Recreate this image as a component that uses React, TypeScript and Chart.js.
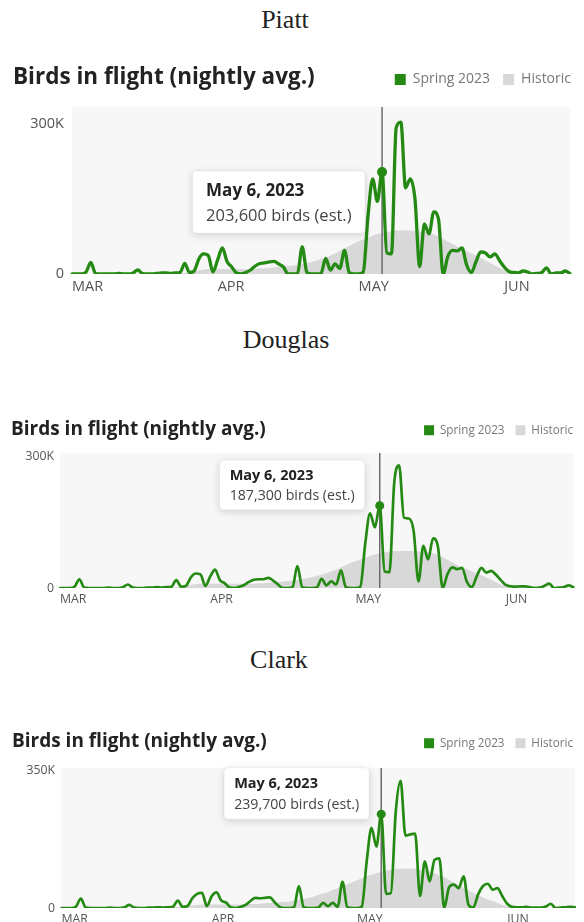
import React, { useEffect, useRef } from 'react';
import { Chart, registerables, Tooltip } from 'chart.js';

Chart.register(...registerables);

// ---------- data ----------
const START_YEAR = 2023;
const START_MONTH = 2; // March (0-based), first night = Mar 1
const MONTH_TICKS = ['JAN', 'FEB', 'MAR', 'APR', 'MAY', 'JUN', 'JUL', 'AUG', 'SEP', 'OCT', 'NOV', 'DEC'];
const HIGHLIGHT_INDEX = 66; // May 6, 2023
const SERIES_LABELS = ['Spring 2023', 'Historic'];
const CHART_TITLE = 'Birds in flight (nightly avg.)';
const COUNTY_NAMES = ['Piatt', 'Douglas', 'Clark'];
const TOP_TICKS = [300000, 300000, 350000];

// nightly values in thousands of birds, Mar 1 .. Jun 15
const PIATT_SPRING = [
  0, 0, 0, 4, 23, 1, 0, 0, 0, 0,
  1, 0, 0, 2, 8, 1, 0, 0, 1, 2,
  2, 1, 2, 3, 21, 3, 6, 30, 40, 37,
  4, 28, 52, 25, 14, 2, 0, 3, 8, 16,
  21, 22, 24, 25, 20, 14, 0, 0, 1, 54,
  3, 0, 0, 1, 31, 8, 20, 11, 47, 3,
  0, 0, 4, 115, 190, 145, 203.6, 42, 40, 292,
  303, 172, 190, 150, 15, 100, 80, 124, 110, 0,
  35, 47, 46, 52, 18, 3, 25, 44, 42, 34,
  40, 27, 14, 5, 3, 2, 6, 4, 0, 1,
  3, 12, 0, 2, 2, 6, 1,
];
const PIATT_HISTORIC = [
  0, 0, 0, 0, 0, 0, 0, 0, 0, 0,
  0, 0, 0, 0, 0, 0, 0, 0, 0, 0,
  0, 0.5, 1, 1.5, 2, 3, 5, 7, 9, 10,
  10, 10, 10, 10, 10, 10, 10, 10, 10, 10,
  11, 11, 12, 13, 14, 15, 16, 17, 18, 20,
  22, 24, 27, 30, 33, 37, 41, 46, 51, 56,
  61, 65, 69, 73, 77, 80, 82, 84, 86, 87,
  87, 87, 87, 86, 85, 84, 82, 79, 75, 70,
  65, 60, 55, 50, 46, 41, 37, 32, 27, 22,
  17, 12, 8, 4, 1, 0, 0, 0, 0, 0,
  0, 0, 0, 0, 0, 0, 0,
];
const DOUGLAS_SPRING = [
  0, 0, 0, 3, 20, 1, 0, 0, 0, 0,
  1, 0, 0, 2, 8, 1, 0, 0, 1, 1,
  2, 1, 2, 3, 18, 3, 5, 24, 33, 31,
  5, 26, 42, 18, 11, 1, 0, 3, 7, 14,
  19, 20, 20, 23, 17, 8, 0, 0, 2, 50,
  2, 0, 0, 1, 21, 6, 15, 8, 40, 2,
  0, 0, 3, 100, 170, 138, 187.3, 38, 36, 240,
  279, 160, 158, 130, 15, 96, 65, 113, 95, 0,
  32, 47, 43, 46, 14, 2, 26, 46, 35, 39,
  30, 18, 7, 4, 3, 4, 4, 2, 0, 1,
  5, 10, 0, 1, 2, 6, 2,
];
const DOUGLAS_HISTORIC = [
  0, 0, 0, 0, 0, 0, 0, 0, 0, 0,
  0, 0, 0, 0, 0, 0, 0, 0, 0, 0,
  0, 0.5, 1, 1.5, 2, 3, 5, 7, 9, 10,
  10, 10, 10, 10, 10, 10, 10, 10, 10, 10,
  10, 11, 11, 12, 13, 14, 15, 16, 17, 18,
  20, 22, 25, 28, 31, 34, 38, 42, 47, 52,
  57, 61, 65, 69, 73, 76, 79, 81, 83, 84,
  84, 84, 84, 84, 83, 82, 81, 79, 75, 70,
  64, 58, 52, 47, 43, 38, 34, 29, 24, 19,
  13, 8, 4, 1, 0, 0, 0, 0, 0, 0,
  0, 0, 0, 0, 0, 0, 0,
];
const CLARK_SPRING = [
  0, 0, 0, 4, 24, 1, 0, 0, 0, 0,
  1, 0, 0, 2, 8, 1, 0, 0, 1, 1,
  2, 1, 2, 3, 19, 3, 5, 25, 36, 39,
  5, 30, 40, 19, 14, 1, 0, 3, 8, 18,
  26, 25, 26, 27, 15, 3, 0, 0, 2, 56,
  2, 0, 0, 1, 13, 5, 13, 3, 67, 2,
  0, 0, 4, 119, 205, 157, 239.7, 36, 38, 246,
  325, 185, 188, 190, 31, 119, 68, 123, 127, 0,
  53, 60, 51, 81, 9, 1, 35, 56, 62, 47,
  51, 30, 11, 3, 2, 2, 3, 1, 1, 1,
  4, 11, 0, 1, 2, 3, 2,
];
const CLARK_HISTORIC = [
  0, 0, 0, 0, 0, 0, 0, 0, 0, 0,
  0, 0, 0, 0, 0, 0, 0, 0, 0, 0,
  0, 0.5, 1, 2, 3, 4, 5, 7, 8, 9,
  9, 9, 9, 9, 9, 9, 9, 9, 10, 10,
  10, 11, 12, 13, 14, 15, 16, 17, 19, 21,
  23, 26, 29, 33, 37, 41, 46, 51, 56, 61,
  66, 71, 76, 81, 85, 89, 92, 95, 98, 100,
  100, 100, 100, 100, 98, 96, 93, 89, 84, 79,
  72, 65, 58, 51, 45, 39, 33, 27, 22, 18,
  13, 8, 4, 1, 0, 0, 0, 0, 0, 0,
  0, 0, 0, 0, 0, 0, 0,
];

// ---------- styling ----------
const FONT = "'Open Sans', 'Noto Sans', sans-serif";
const GREEN = '#248a13';
const HIST_GRAY = '#d8d8d8';
const PLOT_BG = '#f7f7f7';
const TIP_RADIUS = 4;

type Panel = {
  key: string;
  name: string;
  spring: number[];
  historic: number[];
  topTick: number;
  headingTop: number;
  headingWidth: number;
  canvasTop: number;
  canvasHeight: number;
  titleSize: number;
  titlePadTop: number;
  titlePadBottom: number;
  legendSize: number;
  legendBox: number;
  legendPad: number;
  padLeft: number;
  yAxisWidth: number;
  yTickPad: number;
  rightGap: number;
  topGap: number;
  tickSize: number;
  xTickPad: number;
  lineWidth: number;
  pointRadius: number;
  tipTitleSize: number;
  tipBodySize: number;
  tipPad: { top: number; bottom: number; left: number; right: number };
  tipTitleMargin: number;
  tipGap: number;
  tipDy: number;
  tipYAlign: 'top' | 'bottom';
};

const PANELS: Panel[] = [
  {
    key: 'piatt', name: COUNTY_NAMES[0], spring: PIATT_SPRING, historic: PIATT_HISTORIC, topTick: TOP_TICKS[0],
    headingTop: 4.5, headingWidth: 570, canvasTop: 56.5, canvasHeight: 243,
    titleSize: 22.5, titlePadTop: 7, titlePadBottom: -31.5,
    legendSize: 14, legendBox: 11, legendPad: 13,
    padLeft: 13, yAxisWidth: 59, yTickPad: 8, rightGap: 14, topGap: 10.5,
    tickSize: 14.5, xTickPad: 4.3, lineWidth: 3.3, pointRadius: 5,
    tipTitleSize: 17, tipBodySize: 16.5, tipPad: { top: 10, bottom: 7, left: 13.5, right: 13.5 }, tipTitleMargin: 5,
    tipGap: 17, tipDy: -1, tipYAlign: 'top',
  },
  {
    key: 'douglas', name: COUNTY_NAMES[1], spring: DOUGLAS_SPRING, historic: DOUGLAS_HISTORIC, topTick: TOP_TICKS[1],
    headingTop: 324.5, headingWidth: 572, canvasTop: 406, canvasHeight: 204,
    titleSize: 19, titlePadTop: 12, titlePadBottom: -27.3,
    legendSize: 11.7, legendBox: 10, legendPad: 11,
    padLeft: 11, yAxisWidth: 49, yTickPad: 6, rightGap: 10.5, topGap: 6.8,
    tickSize: 12.3, xTickPad: 3.6, lineWidth: 2.7, pointRadius: 4.5,
    tipTitleSize: 14.5, tipBodySize: 14.2, tipPad: { top: 7, bottom: 5, left: 10, right: 10 }, tipTitleMargin: 3,
    tipGap: 15, tipDy: 4, tipYAlign: 'bottom',
  },
  {
    key: 'clark', name: COUNTY_NAMES[2], spring: CLARK_SPRING, historic: CLARK_HISTORIC, topTick: TOP_TICKS[2],
    headingTop: 644.5, headingWidth: 558, canvasTop: 718.5, canvasHeight: 211,
    titleSize: 19, titlePadTop: 11.6, titlePadBottom: -26.9,
    legendSize: 11.7, legendBox: 10, legendPad: 11,
    padLeft: 12, yAxisWidth: 49.5, yTickPad: 6.5, rightGap: 9, topGap: 8.8,
    tickSize: 12.3, xTickPad: 3.6, lineWidth: 2.7, pointRadius: 4.5,
    tipTitleSize: 14.5, tipBodySize: 14.2, tipPad: { top: 7, bottom: 6, left: 10, right: 10 }, tipTitleMargin: 4,
    tipGap: 12, tipDy: 5, tipYAlign: 'bottom',
  },
];

function nightDate(i: number): Date {
  return new Date(Date.UTC(START_YEAR, START_MONTH, 1 + i));
}

const plotBgPlugin = {
  id: 'plotBg',
  beforeDatasetsDraw(chart: any) {
    const { ctx, chartArea: a } = chart;
    ctx.save();
    ctx.fillStyle = PLOT_BG;
    ctx.fillRect(a.left, a.top, a.right - a.left, a.bottom - a.top);
    ctx.restore();
  },
};

const markerLinePlugin = {
  id: 'markerLine',
  afterDatasetDraw(chart: any, args: any) {
    if (args.index !== 1) return;
    const { ctx, chartArea: a } = chart;
    const x = chart.scales.x.getPixelForValue(HIGHLIGHT_INDEX);
    ctx.save();
    ctx.strokeStyle = '#6b6b6b';
    ctx.lineWidth = 1.5;
    ctx.beginPath();
    ctx.moveTo(x, a.top);
    ctx.lineTo(x, a.bottom);
    ctx.stroke();
    ctx.restore();
  },
};

const tipShadowPlugin = {
  id: 'tipShadow',
  beforeTooltipDraw(chart: any, args: any) {
    const t = args.tooltip;
    const { ctx } = chart;
    ctx.save();
    ctx.shadowColor = 'rgba(0,0,0,0.16)';
    ctx.shadowBlur = 9;
    ctx.shadowOffsetY = 2;
    ctx.fillStyle = '#ffffff';
    ctx.beginPath();
    ctx.roundRect(t.x, t.y, t.width, t.height, TIP_RADIUS);
    ctx.fill();
    ctx.restore();
  },
};

function BirdChart({ p }: { p: Panel }) {
  const ref = useRef<HTMLCanvasElement>(null);

  useEffect(() => {
    const canvas = ref.current;
    if (!canvas) return;
    const n = p.spring.length;
    const labels = Array.from({ length: n }, (_, i) => nightDate(i).toISOString().slice(0, 10));
    const springData = p.spring.map((v) => Math.round(v * 1000));
    const historicData = p.historic.map((v) => Math.round(v * 1000));
    const yMax = Math.max(...springData) * 1.1;

    const posName = 'tip_' + p.key;
    (Tooltip.positioners as any)[posName] = function (items: any[]) {
      if (!items.length) return false;
      const el = items[0].element;
      return {
        x: el.x - p.tipGap - TIP_RADIUS,
        y: el.y + p.tipDy,
        xAlign: 'right',
        yAlign: p.tipYAlign,
      };
    };

    const radiusFn = (ctx: any) => (ctx.dataIndex === HIGHLIGHT_INDEX ? p.pointRadius : 0);

    const chart = new Chart(canvas, {
      type: 'line',
      data: {
        labels,
        datasets: [
          {
            label: SERIES_LABELS[0],
            data: springData,
            borderColor: GREEN,
            backgroundColor: GREEN,
            borderWidth: p.lineWidth,
            fill: false,
            cubicInterpolationMode: 'monotone',
            borderJoinStyle: 'round',
            borderCapStyle: 'round',
            pointRadius: radiusFn,
            pointHoverRadius: radiusFn,
            pointBackgroundColor: GREEN,
            pointHoverBackgroundColor: GREEN,
            pointBorderWidth: 0,
            pointHoverBorderWidth: 0,
          } as any,
          {
            label: SERIES_LABELS[1],
            data: historicData,
            borderColor: 'rgba(0,0,0,0)',
            backgroundColor: HIST_GRAY,
            borderWidth: 0,
            fill: 'origin',
            cubicInterpolationMode: 'monotone',
            pointRadius: 0,
            pointHoverRadius: 0,
          } as any,
        ],
      },
      options: {
        responsive: false,
        animation: false,
        events: [],
        layout: { padding: { left: p.padLeft, right: 0, top: 0, bottom: 0 } },
        scales: {
          x: {
            type: 'category',
            position: 'bottom',
            grid: { display: false, drawTicks: false },
            border: { display: false },
            ticks: {
              autoSkip: false,
              maxRotation: 0,
              minRotation: 0,
              align: 'start',
              padding: p.xTickPad,
              color: '#555',
              font: { family: FONT, size: p.tickSize },
              callback: (_v: any, i: number) => {
                const d = nightDate(i);
                return d.getUTCDate() === 1 ? MONTH_TICKS[d.getUTCMonth()] : null;
              },
            },
          },
          xTop: {
            type: 'category',
            position: 'top',
            grid: { display: false, drawTicks: false },
            border: { display: false },
            ticks: { display: false },
            afterFit: (s: any) => { s.height = p.topGap; },
          },
          y: {
            type: 'linear',
            position: 'left',
            min: 0,
            max: yMax,
            grid: { display: false, drawTicks: false },
            border: { display: false },
            afterBuildTicks: (s: any) => { s.ticks = [{ value: 0 }, { value: p.topTick }]; },
            afterFit: (s: any) => { s.width = p.yAxisWidth; },
            ticks: {
              padding: p.yTickPad,
              color: '#555',
              font: { family: FONT, size: p.tickSize },
              callback: (v: any) => (v === 0 ? '0' : Math.round(v / 1000) + 'K'),
            },
          },
          yRight: {
            type: 'linear',
            position: 'right',
            grid: { display: false, drawTicks: false },
            border: { display: false },
            ticks: { display: false },
            afterFit: (s: any) => { s.width = p.rightGap; },
          },
        } as any,
        plugins: {
          title: {
            display: true,
            text: CHART_TITLE,
            align: 'start',
            color: '#222',
            font: { family: FONT, size: p.titleSize, weight: 'bold', lineHeight: 1.2 },
            padding: { top: p.titlePadTop, bottom: p.titlePadBottom },
          },
          legend: {
            display: true,
            position: 'top',
            align: 'end',
            labels: {
              boxWidth: p.legendBox,
              boxHeight: p.legendBox,
              padding: p.legendPad,
              color: '#777',
              font: { family: FONT, size: p.legendSize },
              generateLabels: (c: any) =>
                (Chart.defaults.plugins.legend.labels.generateLabels as any)(c).map((l: any) => ({
                  ...l,
                  lineWidth: 0,
                  strokeStyle: 'rgba(0,0,0,0)',
                })),
            },
          },
          tooltip: {
            enabled: true,
            position: posName as any,
            backgroundColor: '#ffffff',
            titleColor: '#222',
            bodyColor: '#444',
            titleFont: { family: FONT, size: p.tipTitleSize, weight: 'bold' },
            bodyFont: { family: FONT, size: p.tipBodySize },
            padding: p.tipPad,
            titleMarginBottom: p.tipTitleMargin,
            caretSize: 0,
            caretPadding: 0,
            cornerRadius: TIP_RADIUS,
            displayColors: false,
            borderColor: 'rgba(0,0,0,0.06)',
            borderWidth: 1,
            callbacks: {
              title: (items: any[]) =>
                nightDate(items[0].dataIndex).toLocaleDateString('en-US', {
                  month: 'short', day: 'numeric', year: 'numeric', timeZone: 'UTC',
                }),
              label: (item: any) => Math.round(item.raw).toLocaleString('en-US') + ' birds (est.)',
            },
          },
        },
      } as any,
      plugins: [plotBgPlugin, markerLinePlugin, tipShadowPlugin],
    });

    const active = [{ datasetIndex: 0, index: HIGHLIGHT_INDEX }];
    chart.setActiveElements(active);
    chart.tooltip?.setActiveElements(active, { x: 0, y: 0 });
    chart.update();

    return () => {
      chart.destroy();
    };
  }, [p]);

  return (
    <canvas
      ref={ref}
      width={584}
      height={p.canvasHeight}
      style={{ position: 'absolute', left: 0, top: p.canvasTop, display: 'block', width: 584, height: p.canvasHeight }}
    />
  );
}

export default function App() {
  return (
    <div
      style={{
        position: 'absolute',
        left: 0,
        top: 0,
        width: 584,
        height: 922,
        overflow: 'hidden',
        background: '#ffffff',
      }}
    >
      {PANELS.map((p) => (
        <React.Fragment key={p.key}>
          <div
            style={{
              position: 'absolute',
              left: 0,
              top: p.headingTop,
              width: p.headingWidth,
              textAlign: 'center',
              fontFamily: "'Liberation Serif', serif",
              fontSize: 26,
              lineHeight: '30px',
              color: '#222',
            }}
          >
            {p.name}
          </div>
          <BirdChart p={p} />
        </React.Fragment>
      ))}
    </div>
  );
}
